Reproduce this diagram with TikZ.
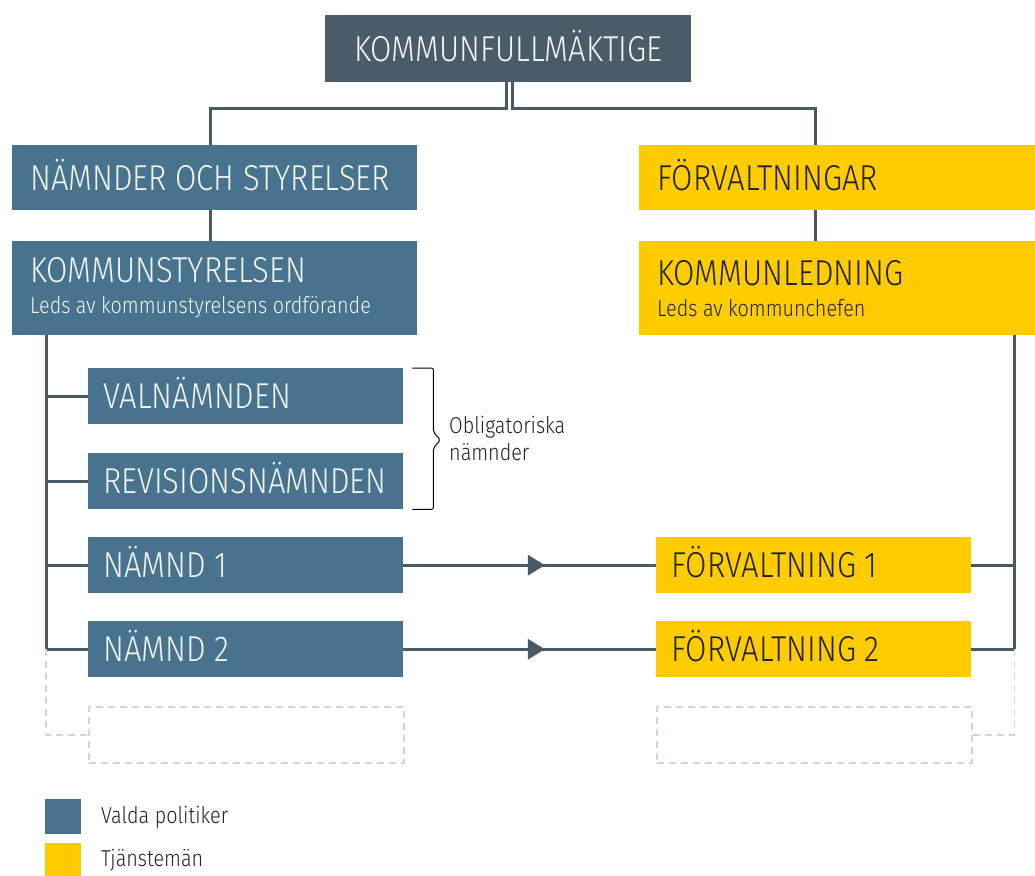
\documentclass[tikz,border=0pt]{standalone}
\usepackage{fontspec}
\setmainfont{Fira Sans}[UprightFont={* Light}, FakeStretch=0.86]
\usetikzlibrary{arrows.meta,decorations.markings,calc}
\definecolor{kfc}{HTML}{4B5C69}
\definecolor{blu}{HTML}{47738F}
\definecolor{yel}{HTML}{FFCC00}
\definecolor{ln}{HTML}{4A5966}
\definecolor{dsh}{HTML}{CDD5DD}
\definecolor{wtx}{HTML}{F2F4F6}
\definecolor{dtx}{HTML}{222222}
\begin{document}
\begin{tikzpicture}[x=1pt,y=-1pt,
  box/.style={rectangle, anchor=north west, inner ysep=0pt, align=flush left, font=\fontsize{36}{40}\selectfont},
  oneline/.style={text height=25pt, text depth=0pt},
  bluebox/.style={box, fill=blu, text=wtx},
  yelbox/.style={box, fill=yel, text=dtx},
  wide/.style={oneline, minimum width=405pt, minimum height=65pt, inner xsep=18pt, text width=369pt},
  tall/.style={minimum width=405pt, minimum height=94pt, inner xsep=18pt, text width=369pt},
  small/.style={oneline, minimum width=315pt, minimum height=56pt, inner xsep=15pt, text width=285pt},
  conn/.style={draw=ln, line width=3pt},
  dconn/.style={draw=dsh, line width=1.6pt, dash pattern=on 7pt off 5pt},
  dbox/.style={rectangle, anchor=north west, draw=dsh, line width=1.6pt, dash pattern=on 7pt off 5pt, minimum width=315pt, minimum height=56pt},
  midarrow/.style={postaction={decorate}, decoration={markings, mark=at position 0.56 with {\arrow{Triangle[length=17pt,width=20pt]}}}},
  legtext/.style={anchor=west, font=\fontsize{23}{26}\selectfont, text=dtx},
  brace/.style={draw=black, line width=1pt, rounded corners=2pt}
]
\useasboundingbox (0,0) rectangle (1035,875);

% top
\node[box, oneline, fill=kfc, text=wtx, minimum width=366pt, minimum height=67pt, inner xsep=0pt, align=center] (kf) at (325,15) {KOMMUNFULLMÄKTIGE};

\node[bluebox, wide] (ns) at (12,145) {NÄMNDER OCH STYRELSER};
\node[yelbox, wide, minimum width=396pt, text width=360pt, inner xsep=18pt] (fv) at (639,145) {FÖRVALTNINGAR};

\node[bluebox, tall] (ks) at (12,241) {KOMMUNSTYRELSEN\\[-9pt]{\fontsize{23}{25}\selectfont Leds av kommunstyrelsens ordförande}};
\node[yelbox, tall, minimum width=396pt, text width=360pt] (kl) at (639,241) {KOMMUNLEDNING\\[-9pt]{\fontsize{23}{25}\selectfont Leds av kommunchefen}};

\node[bluebox, small] (vn) at (88,368) {VALNÄMNDEN};
\node[bluebox, small] (rn) at (88,453) {REVISIONSNÄMNDEN};
\node[bluebox, small] (n1) at (88,537) {NÄMND 1};
\node[bluebox, small] (n2) at (88,621) {NÄMND 2};
\node[dbox] (dl) at (88,706) {};

\node[yelbox, small] (f1) at (656,537) {FÖRVALTNING 1};
\node[yelbox, small] (f2) at (656,621) {FÖRVALTNING 2};
\node[dbox] (dr) at (656,706) {};

% top connectors
\draw[conn] ([xshift=-1.5pt]kf.south) -- ++(0,26) -| ([xshift=-4pt]ns.north);
\draw[conn] ([xshift=4.5pt]kf.south) -- ++(0,26) -| ([xshift=-22pt]fv.north);
\draw[conn] ([xshift=-4pt]ns.south) -- ([xshift=-4pt]ks.north);
\draw[conn] ([xshift=-22pt]fv.south) -- ([xshift=-22pt]kl.north);

% left spine
\coordinate (ls) at ([xshift=34pt]ks.south west);
\coordinate (lb) at (ls |- n2.west);
\draw[conn] (ls) -- (lb);
\draw[conn] (vn.west) -- (vn.west -| ls);
\draw[conn] (rn.west) -- (rn.west -| ls);
\draw[conn] (n1.west) -- (n1.west -| ls);
\draw[conn] (n2.west) -- (lb);
\draw[dconn] (lb) -- (lb |- dl.west) -- (dl.west);

% right spine
\coordinate (rs) at ([xshift=-21pt]kl.south east);
\coordinate (rb) at (rs |- f2.east);
\draw[conn] (rs) -- (rb);
\draw[conn] (f1.east) -- (f1.east -| rs);
\draw[conn] (f2.east) -- (rb);
\draw[dconn] (rb) -- (rb |- dr.east) -- (dr.east);

% arrows
\draw[conn, midarrow] (n1.east) -- (f1.west);
\draw[conn, midarrow] (n2.east) -- (f2.west);

% brace
\coordinate (bt) at ([xshift=9pt]vn.north east);
\coordinate (bb) at ([xshift=9pt]rn.south east);
\draw[brace] (bt) -- ++(21,0) -- ++(0,64) -- ++(7,8) -- ++(-7,8) |- (bb);
\node[anchor=west, align=left, font=\fontsize{23}{27}\selectfont, text=dtx, inner xsep=0pt] (ob) at (449,438) {Obligatoriska\\nämnder};

% legend
\node[rectangle, fill=blu, minimum width=36pt, minimum height=35pt, anchor=north west, inner sep=0pt] (lg1) at (45,799) {};
\node[rectangle, fill=yel, minimum width=36pt, minimum height=33pt, anchor=north west, inner sep=0pt] (lg2) at (45,843) {};
\node[legtext, inner xsep=0pt] (lt1) at (101,817) {Valda politiker};
\node[legtext, inner xsep=0pt] (lt2) at (101,860) {Tjänstemän};
\end{tikzpicture}
\end{document}
